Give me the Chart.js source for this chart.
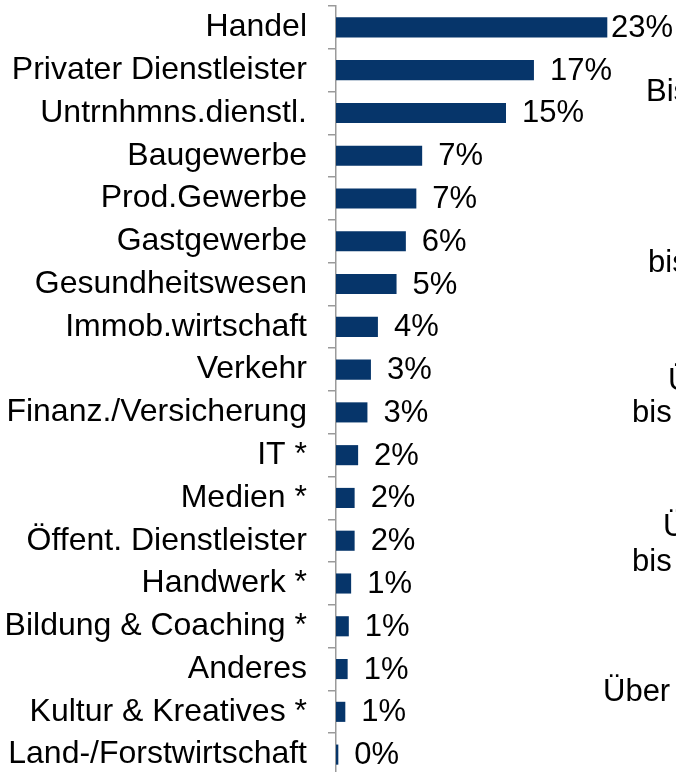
<!DOCTYPE html>
<html>
<head>
<meta charset="utf-8">
<script src="https://cdn.jsdelivr.net/npm/chart.js@4/dist/chart.umd.min.js"></script>
<style>
  html, body { margin: 0; padding: 0; background: #fff; }
  body { width: 676px; height: 772px; overflow: hidden; position: relative; }
  #chart { position: absolute; left: 0; top: 0; }
  .side {
    position: absolute;
    font-family: "Liberation Sans", Arial, sans-serif;
    font-size: 31px;
    color: #000;
    white-space: nowrap;
    line-height: 1;
  }
</style>
</head>
<body>
<canvas id="chart" width="676" height="776"></canvas>
<!-- Reste der Beschriftung vom Nachbardiagramm (rechts abgeschnitten) -->
<div class="side" style="left:646px; top:75px;">Bis</div>
<div class="side" style="left:648px; top:246px;">bis</div>
<div class="side" style="left:668px; top:364px;">Über</div>
<div class="side" style="left:632px; top:396px;">bis</div>
<div class="side" style="left:663px; top:510px;">Über</div>
<div class="side" style="left:632px; top:545px;">bis</div>
<div class="side" style="left:603px; top:675px;">Über</div>
<script>
// Branchen (von oben nach unten)
const branchen = [
  "Handel",
  "Privater Dienstleister",
  "Untrnhmns.dienstl.",
  "Baugewerbe",
  "Prod.Gewerbe",
  "Gastgewerbe",
  "Gesundheitswesen",
  "Immob.wirtschaft",
  "Verkehr",
  "Finanz./Versicherung",
  "IT *",
  "Medien *",
  "Öffent. Dienstleister",
  "Handwerk *",
  "Bildung & Coaching *",
  "Anderes",
  "Kultur & Kreatives *",
  "Land-/Forstwirtschaft",
];

// Anteile in Prozent (aus den Balkenlängen geschätzt)
const anteile = [
  23.3, 17.0, 14.6, 7.4, 6.9, 6.0, 5.2, 3.6, 3.0, 2.7, 1.9, 1.6, 1.6, 1.3, 1.1,
  1.0, 0.8, 0.2,
];

const schrift = "'Liberation Sans', Arial, sans-serif";
const balkenFarbe = "#06356a";

// Plugin für die Prozentwerte rechts neben den Balken
const wertLabels = {
  id: "wertLabels",
  afterDatasetsDraw(chart) {
    const ctx = chart.ctx;
    const meta = chart.getDatasetMeta(0);
    ctx.save();
    ctx.font = "31px " + schrift;
    ctx.fillStyle = "#000";
    ctx.textAlign = "left";
    ctx.textBaseline = "middle";
    meta.data.forEach((bar, i) => {
      const text = Math.round(anteile[i]) + "%";
      const w = ctx.measureText(text).width;
      let x = bar.x + 16;
      // am rechten Rand nicht abschneiden
      x = Math.min(x, chart.width - w - 3);
      ctx.fillText(text, x, bar.y + 1);
    });
    ctx.restore();
  },
};

const ctx = document.getElementById("chart").getContext("2d");
new Chart(ctx, {
  type: "bar",
  data: {
    labels: branchen,
    datasets: [
      {
        data: anteile,
        backgroundColor: balkenFarbe,
        borderWidth: 0,
        barPercentage: 0.47,
        categoryPercentage: 1.0,
      },
    ],
  },
  options: {
    indexAxis: "y",
    responsive: false,
    animation: false,
    devicePixelRatio: 1,
    layout: {
      padding: { top: 6, bottom: 0, left: 0, right: 0 },
    },
    plugins: {
      legend: { display: false },
      tooltip: { enabled: false },
    },
    scales: {
      x: {
        display: false,
        min: 0,
        max: 29.2,
      },
      y: {
        position: "left",
        afterFit: (scale) => {
          scale.width = 336; // Achse bei x = 336
          scale.paddingTop = 0;
          scale.paddingBottom = 0;
        },
        grid: {
          offset: true,
          drawOnChartArea: false,
          drawTicks: true,
          tickLength: 8,
          color: "#9a9a9a",
          lineWidth: 1.5,
        },
        border: {
          display: true,
          color: "#9a9a9a",
          width: 1.5,
        },
        ticks: {
          color: "#000",
          padding: 21,
          autoSkip: false,
          font: { family: schrift, size: 32 },
        },
      },
    },
  },
  plugins: [wertLabels],
});
</script>
</body>
</html>
